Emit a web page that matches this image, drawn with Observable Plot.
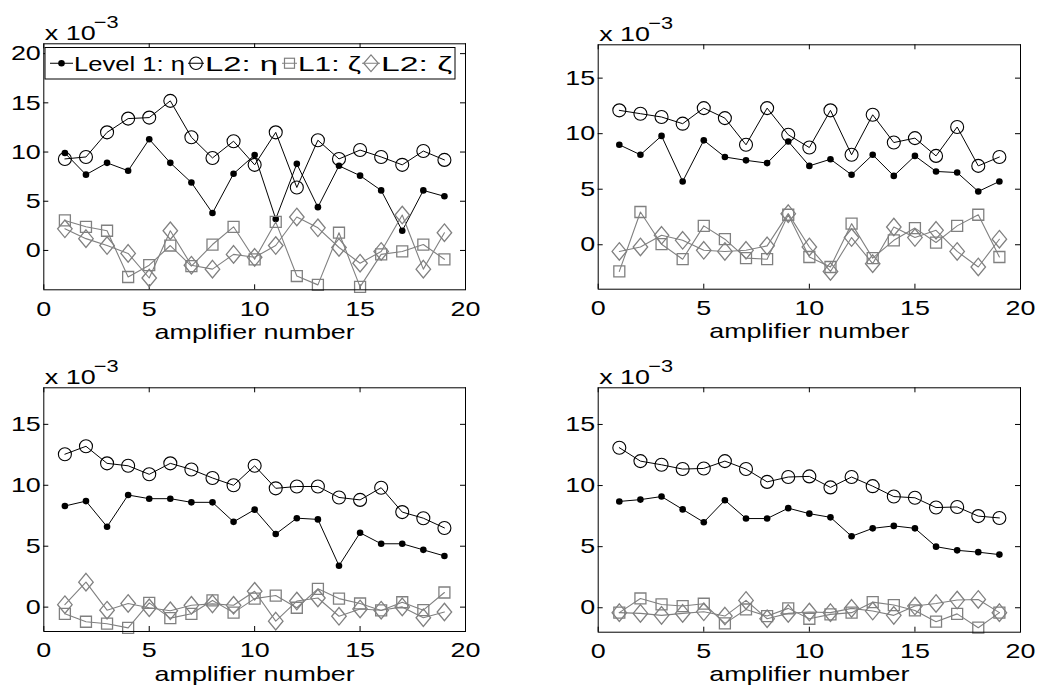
<!DOCTYPE html>
<html>
<head>
<meta charset="utf-8">
<script src="https://cdn.jsdelivr.net/npm/d3@7"></script>
<script src="https://cdn.jsdelivr.net/npm/@observablehq/plot@0.6"></script>
<style>
html, body { margin: 0; padding: 0; background: #fff; }
#fig { position: relative; width: 1038px; height: 688px; overflow: hidden; background: #fff; }
#fig svg { position: absolute; }
</style>
</head>
<body>
<div id="fig"></div>
<script>
// ---------------- data (values in units of 1e-3) ----------------
const amps = [1, 2, 3, 4, 5, 6, 7, 8, 9, 10, 11, 12, 13, 14, 15, 16, 17, 18, 19];
const xTicks = [0, 5, 10, 15, 20];
const yTicksTop = [0, 5, 10, 15, 20];
const yTicks = [0, 5, 10, 15];
const seriesNames = ["Level 1: η", "L2: η", "L1: ζ", "L2: ζ"];

// panel 1 (top-left)
const p1L1eta  = [9.9, 7.7, 8.9, 8.1, 11.3, 8.9, 6.9, 3.8, 7.8, 9.7, 3.2, 8.8, 4.4, 8.6, 7.6, 6.1, 2.0, 6.1, 5.5];
const p1L2eta  = [9.3, 9.5, 12.0, 13.4, 13.5, 15.2, 11.5, 9.4, 11.1, 8.7, 12.0, 6.4, 11.2, 9.3, 10.2, 9.5, 8.7, 10.1, 9.2];
const p1L1zeta = [3.05, 2.4, 2.0, -2.7, -1.5, 0.5, -1.6, 0.6, 2.4, -0.9, 2.9, -2.6, -3.5, 1.8, -3.7, -0.4, -0.1, 0.6, -0.9];
const p1L2zeta = [2.2, 1.2, 0.5, -0.3, -2.8, 2.0, -1.5, -1.9, -0.4, -0.7, 0.5, 3.4, 2.3, 0.3, -1.3, -0.1, 3.6, -1.9, 1.8];

// panel 2 (top-right)
const p2L1eta  = [9.0, 8.1, 9.8, 5.7, 9.4, 7.9, 7.6, 7.35, 9.3, 7.1, 7.7, 6.3, 8.1, 6.2, 8.0, 6.6, 6.5, 4.8, 5.7];
const p2L2eta  = [12.1, 11.8, 11.5, 10.9, 12.3, 11.4, 9.0, 12.3, 9.9, 8.75, 12.1, 8.1, 11.7, 9.2, 9.6, 8.0, 10.6, 7.1, 7.9];
const p2L1zeta = [-2.4, 2.95, 0.05, -1.3, 1.7, 0.5, -1.2, -1.3, 2.7, -1.1, -2.0, 1.9, -1.2, 0.4, 1.5, 0.2, 1.7, 2.7, -1.1];
const p2L2zeta = [-0.6, -0.2, 0.85, 0.4, -0.5, -0.6, -0.5, -0.1, 2.8, -0.2, -2.4, 0.65, -1.7, 1.6, 0.65, 1.3, -0.6, -2.0, 0.5];

// panel 3 (bottom-left)
const p3L1eta  = [8.3, 8.7, 6.6, 9.2, 8.9, 8.9, 8.6, 8.6, 7.0, 8.0, 6.0, 7.3, 7.2, 3.4, 6.1, 5.2, 5.2, 4.7, 4.2];
const p3L2eta  = [12.55, 13.2, 11.8, 11.6, 10.9, 11.8, 11.3, 10.6, 10.0, 11.6, 9.75, 9.9, 9.9, 9.0, 8.8, 9.8, 7.8, 7.3, 6.5];
const p3L1zeta = [-0.55, -1.2, -1.36, -1.7, 0.35, -0.9, -0.55, 0.55, -0.45, 0.7, 0.95, -0.05, 1.5, 0.7, 0.3, -0.27, 0.4, -0.25, 1.2];
const p3L2zeta = [0.2, 2.05, -0.25, 0.3, -0.05, -0.3, 0.15, 0.27, 0.15, 1.3, -1.15, 0.5, 0.75, -0.75, -0.15, -0.25, 0.02, -0.87, -0.4];

// panel 4 (bottom-right)
const p4L1eta  = [8.7, 8.85, 9.1, 8.05, 7.0, 8.8, 7.3, 7.3, 8.15, 7.7, 7.4, 5.85, 6.5, 6.7, 6.5, 5.0, 4.7, 4.55, 4.35];
const p4L2eta  = [13.1, 12.0, 11.7, 11.35, 11.4, 12.0, 11.35, 10.3, 10.7, 10.75, 9.85, 10.7, 9.95, 9.1, 9.0, 8.2, 8.25, 7.5, 7.35];
const p4L1zeta = [-0.4, 0.76, 0.27, 0.14, 0.33, -1.28, -0.14, -0.68, -0.05, -0.9, -0.54, -0.4, 0.46, 0.22, -0.22, -1.14, -0.5, -1.63, -0.4];
const p4L2zeta = [-0.4, -0.46, -0.62, -0.46, -0.33, -0.68, 0.6, -0.9, -0.46, -0.35, -0.4, -0.05, -0.27, -0.62, 0.14, 0.35, 0.63, 0.68, -0.4];

// ---------------- styling ----------------
const FONT = "'Liberation Sans', Arial, Helvetica, sans-serif";
const FS = 21;
const STRETCH = 1.28;
const BLACK = "#000";
const GRAY = "#808080";

const tallDiamond = {
  draw(ctx, size) {
    const r = Math.sqrt(size / Math.PI);
    const w = r * 1.1, h = r * 1.33;
    ctx.moveTo(0, -h); ctx.lineTo(w, 0); ctx.lineTo(0, h); ctx.lineTo(-w, 0); ctx.closePath();
  }
};

const fig = document.getElementById("fig");

function stretchTexts(svg) {
  svg.querySelectorAll("text").forEach(t => {
    if (t.hasAttribute("textLength")) return;
    const L = t.getComputedTextLength();
    if (L > 0) {
      t.setAttribute("textLength", L * STRETCH);
      t.setAttribute("lengthAdjust", "spacingAndGlyphs");
    }
  });
}

function makePanel(p, s) {
  const innerW = p.width - p.ml - p.mr;
  const innerH = p.height - p.mt - p.mb;
  const tickStyle = {stroke: BLACK, strokeOpacity: 1, strokeWidth: 1};
  const svg = Plot.plot({
    width: p.width, height: p.height,
    marginLeft: p.ml, marginRight: p.mr, marginTop: p.mt, marginBottom: p.mb,
    style: {fontFamily: FONT, fontSize: FS + "px", color: BLACK, background: "transparent", overflow: "visible"},
    x: {domain: [0, 20]},
    y: {domain: p.yDomain},
    marks: [
      // inward ticks on all four sides
      Plot.gridX(xTicks, {...tickStyle, insetTop: innerH - 5}),
      Plot.gridX(xTicks, {...tickStyle, insetBottom: innerH - 5}),
      Plot.gridY(p.yTicks, {...tickStyle, insetRight: innerW - 5}),
      Plot.gridY(p.yTicks, {...tickStyle, insetLeft: innerW - 5}),
      Plot.axisX(xTicks, {tickSize: 0, tickPadding: 10.8, label: null, fontSize: FS}),
      Plot.axisY(p.yTicks, {tickSize: 0, tickPadding: 3, label: null, fontSize: FS}),
      // series
      Plot.line(amps, {x: amps, y: s[0], stroke: BLACK, strokeWidth: 1}),
      Plot.dot(amps, {x: amps, y: s[0], r: 3.3, fill: BLACK, stroke: null}),
      Plot.line(amps, {x: amps, y: s[1], stroke: BLACK, strokeWidth: 1}),
      Plot.dot(amps, {x: amps, y: s[1], r: 6.5, symbol: "circle", fill: "none", stroke: BLACK, strokeWidth: 1.1}),
      Plot.line(amps, {x: amps, y: s[2], stroke: GRAY, strokeWidth: 1.1}),
      Plot.dot(amps, {x: amps, y: s[2], r: 6.2, symbol: "square", fill: "none", stroke: GRAY, strokeWidth: 1.3}),
      Plot.line(amps, {x: amps, y: s[3], stroke: GRAY, strokeWidth: 1.1}),
      Plot.dot(amps, {x: amps, y: s[3], r: 6.6, symbol: tallDiamond, fill: "none", stroke: GRAY, strokeWidth: 1.3}),
      Plot.frame({stroke: BLACK, strokeWidth: 1}),
      // labels
      Plot.text(["amplifier number"], {text: d => d, frameAnchor: "bottom", dy: 42.3, lineAnchor: "middle", fontSize: FS}),
      Plot.text(["x 10"], {text: d => d, frameAnchor: "top-left", textAnchor: "start", dx: 1, dy: -10.5, lineAnchor: "middle", fontSize: FS}),
      Plot.text(["\u22123"], {text: d => d, frameAnchor: "top-left", textAnchor: "start", dx: 50, dy: -21.4, lineAnchor: "middle", fontSize: 17})
    ]
  });
  svg.style.left = p.left + "px";
  svg.style.top = p.top + "px";
  fig.appendChild(svg);
  return svg;
}

const panels = [
  {left: 0,   top: 0,   width: 480, height: 345, ml: 43.3, mr: 15, mt: 43.3, mb: 55.7, yDomain: [-4, 21], yTicks: yTicksTop,
   series: [p1L1eta, p1L2eta, p1L1zeta, p1L2zeta]},
  {left: 540, top: 0,   width: 498, height: 345, ml: 57.7, mr: 18, mt: 44.3, mb: 56.3, yDomain: [-4, 18], yTicks: yTicks,
   series: [p2L1eta, p2L2eta, p2L1zeta, p2L2zeta]},
  {left: 0,   top: 340, width: 480, height: 348, ml: 43.3, mr: 15, mt: 47.3, mb: 57,   yDomain: [-2, 18], yTicks: yTicks,
   series: [p3L1eta, p3L2eta, p3L1zeta, p3L2zeta]},
  {left: 540, top: 340, width: 498, height: 348, ml: 57.7, mr: 18, mt: 47.3, mb: 56.3, yDomain: [-2, 18], yTicks: yTicks,
   series: [p4L1eta, p4L2eta, p4L1zeta, p4L2zeta]}
];

const svgs = panels.map(p => makePanel(p, p.series));

// ---------------- legend inside panel 1 ----------------
(function legend() {
  const svg = d3.select(svgs[0]);
  const p = panels[0];
  const bx = p.ml + 1.7, by = p.mt + 4.2, bw = 410, bh = 31.5;
  const cy = by + bh / 2;
  const g = svg.append("g").attr("font-family", FONT).attr("font-size", FS).attr("text-anchor", "start");
  g.append("rect").attr("x", bx).attr("y", by).attr("width", bw).attr("height", bh)
    .attr("fill", "white").attr("stroke", BLACK).attr("stroke-width", 1);
  const items = [
    {x0: 5, x1: 28, tx: 29, tw: 111, color: BLACK, kind: "dot"},
    {x0: 143, x1: 159, tx: 160, tw: 73, color: BLACK, kind: "circle"},
    {x0: 237, x1: 252, tx: 253, tw: 63, color: GRAY, kind: "square"},
    {x0: 317, x1: 335, tx: 336, tw: 71, color: GRAY, kind: "diamond"}
  ];
  items.forEach((it, i) => {
    const x0 = bx + it.x0, x1 = bx + it.x1, mx = (x0 + x1) / 2;
    g.append("line").attr("x1", x0).attr("x2", x1).attr("y1", cy).attr("y2", cy)
      .attr("stroke", it.color).attr("stroke-width", 1);
    if (it.kind === "dot") {
      g.append("circle").attr("cx", mx).attr("cy", cy).attr("r", 3.3).attr("fill", it.color);
    } else if (it.kind === "circle") {
      g.append("circle").attr("cx", mx).attr("cy", cy).attr("r", 6.3).attr("fill", "none").attr("stroke", it.color).attr("stroke-width", 1.1);
    } else if (it.kind === "square") {
      g.append("rect").attr("x", mx - 5).attr("y", cy - 5).attr("width", 10).attr("height", 10)
        .attr("fill", "none").attr("stroke", it.color).attr("stroke-width", 1.2);
    } else {
      const w = 7.3, h = 8.3;
      g.append("path").attr("d", `M${mx},${cy - h}L${mx + w},${cy}L${mx},${cy + h}L${mx - w},${cy}Z`)
        .attr("fill", "none").attr("stroke", it.color).attr("stroke-width", 1.2);
    }
    g.append("text").attr("x", bx + it.tx).attr("y", cy + 7.3).attr("text-anchor", "start")
      .attr("textLength", it.tw).attr("lengthAdjust", "spacingAndGlyphs")
      .attr("fill", BLACK).text(seriesNames[i]);
  });
})();

svgs.forEach(stretchTexts);
</script>
</body>
</html>
